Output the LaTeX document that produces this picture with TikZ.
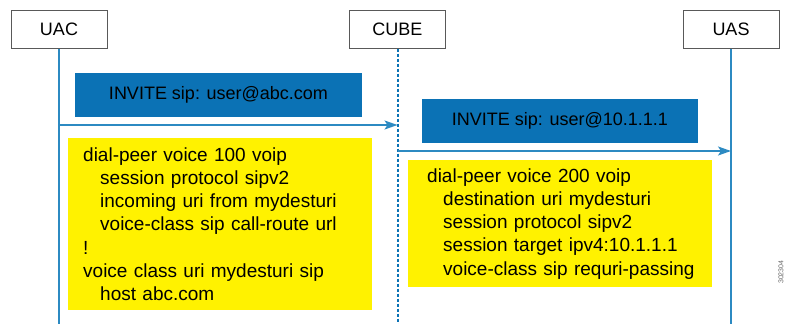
\documentclass[tikz,border=0pt]{standalone}
\usepackage{fontspec}
\setmainfont{Liberation Sans}
\usetikzlibrary{arrows.meta}
\definecolor{ciscoblue}{HTML}{0B72B5}
\definecolor{lineblue}{HTML}{2C8AC2}
\definecolor{noteyellow}{HTML}{FFF200}

\begin{document}
\begin{tikzpicture}[x=1pt,y=-1pt,
	party/.style={draw=black!65,line width=1pt,fill=white,minimum width=96pt,minimum height=38pt,inner sep=0pt,font=\fontsize{18}{22}\selectfont},
	msgbox/.style={fill=ciscoblue,inner sep=0pt,minimum height=44pt,font=\fontsize{18}{22}\selectfont},
	notebox/.style={fill=noteyellow,anchor=north west,align=left,inner ysep=0pt,font=\fontsize{19}{23.3}\selectfont},
	lifeline/.style={lineblue,line width=1.6pt},
	msg/.style={-{Stealth[length=13pt,width=9pt,inset=3pt]},lineblue,line width=1.6pt}]

	%Fix the margins of the picture
	\useasboundingbox (0,0) rectangle (785,324);

	%Lifelines x positions
	\pgfmathsetmacro{\xa}{59}
	\pgfmathsetmacro{\xb}{397.5}
	\pgfmathsetmacro{\xc}{731}

	%Participants
	\node[party] (uac) at (\xa,29) {UAC};
	\node[party] (cube) at (\xb,29) {CUBE};
	\node[party] (uas) at (\xc,29) {UAS};

	\coordinate (uacend) at (\xa,324);
	\coordinate (cubeend) at (\xb,324);
	\coordinate (uasend) at (\xc,324);

	\draw[lifeline] (uac.south) -- (uacend);
	\draw[lifeline,draw=ciscoblue,line width=2pt,dash pattern=on 3pt off 2pt] (cube.south) -- (cubeend);
	\draw[lifeline] (uas.south) -- (uasend);

	%First INVITE: UAC to CUBE
	\node[msgbox,minimum width=287pt] (invite1) at (218.5,95) {INVITE sip: user@abc.com};
	\coordinate (m1from) at (\xa,125);
	\coordinate (m1to) at (\xb,125);
	\draw[msg] (m1from) -- (m1to);

	%Second INVITE: CUBE to UAS
	\node[msgbox,minimum width=276pt] (invite2) at (560,121) {INVITE sip: user@10.1.1.1};
	\coordinate (m2from) at (\xb,151);
	\coordinate (m2to) at (\xc,151);
	\draw[msg] (m2from) -- (m2to);

	%Dial-peer configuration notes
	\node[notebox,inner xsep=15pt,text width=274pt,minimum height=172pt] (inbound) at (68,138)
		{dial-peer voice 100 voip\\
		\hspace*{17pt}session protocol sipv2\\
		\hspace*{17pt}incoming uri from mydesturi\\
		\hspace*{17pt}voice-class sip call-route url\\
		!\\
		voice class uri mydesturi sip\\
		\hspace*{17pt}host abc.com};

	\node[notebox,inner xsep=19pt,text width=266pt,minimum height=127pt] (outbound) at (408,160)
		{dial-peer voice 200 voip\\
		\hspace*{16pt}destination uri mydesturi\\
		\hspace*{16pt}session protocol sipv2\\
		\hspace*{16pt}session target ipv4:10.1.1.1\\
		\hspace*{16pt}\mbox{voice-class sip requri-passing}};

	\node[rotate=90,anchor=west,inner sep=0pt,text=black!60,font=\fontsize{7}{7}\selectfont] (figid) at (781,284) {302304};

\end{tikzpicture}
\end{document}
